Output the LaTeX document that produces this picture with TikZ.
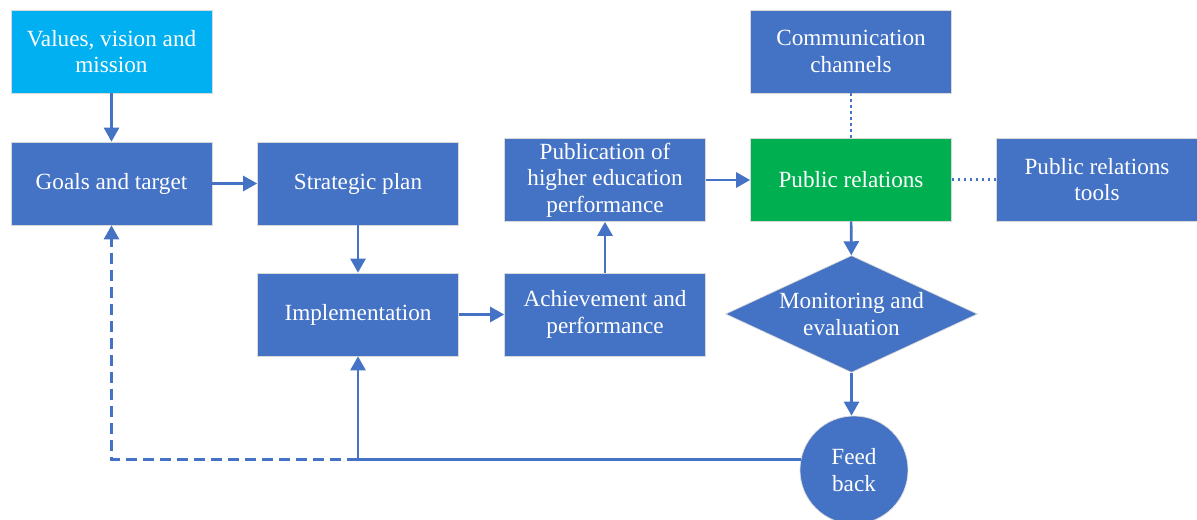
\documentclass[tikz,border=0pt]{standalone}
\usepackage{fontspec}
\setmainfont{Liberation Serif}
\usetikzlibrary{arrows.meta,shapes.geometric}

\definecolor{boxblue}{HTML}{4472C4}
\definecolor{boxcyan}{HTML}{00B0F0}
\definecolor{boxgreen}{HTML}{00B050}

\tikzset{
  block/.style={rectangle, fill=boxblue, draw=black!15, line width=0.4pt,
    minimum width=4.02cm, minimum height=1.66cm, inner sep=0pt,
    text=white, align=center, font=\fontsize{13.2}{15}\selectfont},
  decision/.style={diamond, fill=boxblue, draw=black!15, line width=0.4pt,
    aspect=2.15, minimum width=5.04cm, minimum height=2.34cm, inner sep=0pt,
    text=white, align=center, font=\fontsize{13.2}{15}\selectfont},
  roundnode/.style={circle, fill=boxblue, draw=black!15, line width=0.4pt,
    minimum size=2.16cm, inner sep=0pt,
    text=white, align=center, font=\fontsize{13.2}{15}\selectfont},
  flow/.style={draw=boxblue, line width=1.5pt,
    -{Triangle[length=0.28cm, width=0.3cm]}},
  link/.style={draw=boxblue, line width=1.5pt,
    dash pattern=on 0.05cm off 0.07cm},
}

\begin{document}
\begin{tikzpicture}[x=0.02cm, y=-0.02cm]
  \useasboundingbox (0,0) rectangle (1197,520);

  \node[block, fill=boxcyan] (values) at (111.5,51.5) {Values, vision and\\mission};
  \node[block] (goals) at (111.5,183.5) {Goals and target};
  \node[block] (strategic) at (358,183.5) {Strategic plan};
  \node[block] (implement) at (358,314.5) {Implementation};
  \node[block] (achieve) at (605,314.5) {Achievement and\\performance};
  \node[block] (publish) at (605,180) {Publication of\\higher education\\performance};
  \node[block] (channels) at (851,51.5) {Communication\\channels};
  \node[block, fill=boxgreen] (relations) at (851,179.5) {Public relations};
  \node[block] (tools) at (1097,179.5) {Public relations\\tools};
  \node[decision] (monitor) at (851.5,314) {Monitoring and\\evaluation};
  \node[roundnode] (feedback) at (854,470) {Feed\\back};

  \draw[flow] (values) -- (goals);
  \draw[flow] (goals) -- (strategic);
  \draw[flow] (strategic) -- (implement);
  \draw[flow] (implement) -- (achieve);
  \draw[flow] (achieve) -- (publish);
  \draw[flow] (publish.east) -- (relations.west |- publish.east);
  \draw[link] (channels) -- (relations);
  \draw[link] (relations) -- (tools);
  \draw[flow] (relations) -- (monitor);
  \draw[flow] (monitor.south) -- (feedback.north -| monitor.south);

  \coordinate (split) at (implement.south |- feedback.169);
  \draw[flow] (feedback.169) -| (implement.south);
  \draw[flow, dash pattern=on 0.22cm off 0.12cm] (split) -| (goals.south);
\end{tikzpicture}
\end{document}
